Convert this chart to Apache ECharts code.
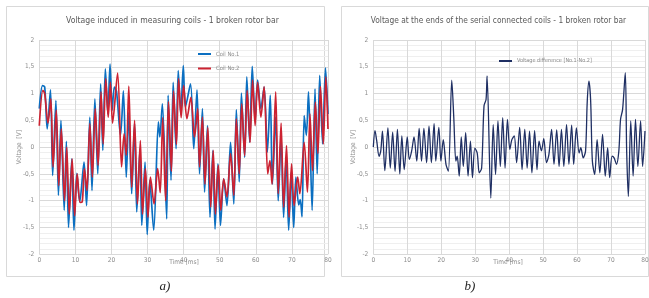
<!DOCTYPE html>
<html>
<head>
<meta charset="utf-8">
<script src="https://cdn.jsdelivr.net/npm/echarts@6/dist/echarts.min.js"></script>
<style>
  html, body { margin: 0; padding: 0; background: #fff; }
  #main { width: 649px; height: 298px; }
</style>
</head>
<body>
<div id="main"></div>
<script>
// values, extrema of the traces (time in ms, voltage in V)
var coil1Time = [0, 0.9, 1.5, 2.2, 3.1, 3.7, 4.6, 5.3, 6.0, 6.9, 7.5, 8.1, 9.0, 9.6, 10.4, 11.2, 12.4, 13.1, 14.0, 14.6, 15.4, 16.2, 17.0, 17.6, 18.3, 19.0, 19.6,
  20.2, 20.8, 21.4, 22.5, 23.3, 24.1, 24.8, 25.6, 26.4, 27.0, 27.9, 28.4, 29.3, 29.9, 30.6, 31.7, 33.0, 33.4, 34.1, 35.3, 35.7, 36.5, 37.1, 37.9, 38.5, 39.2, 39.9,
  40.5, 41.9, 42.8, 43.7, 44.4, 45.2, 45.8, 46.6, 47.3, 48.1, 48.7, 49.5, 50.2, 51.1, 52.0, 53.0, 53.9, 54.6, 55.4, 56.0, 56.9, 57.5, 58.3, 59.0,
  59.8, 60.5, 61.4, 62.3, 63.2, 64.0, 64.6, 65.5, 66.2, 67.0, 67.7, 68.4, 69.1, 69.8, 70.5, 71.1, 71.9, 72.3, 72.8, 73.4, 74.0, 74.6, 75.6, 76.4, 77.0, 77.7, 78.5, 79.3, 80];
var coil1Volt = [0.72, 1.15, 1.12, 0.34, 1.07, -0.53, 0.87, -0.90, 0.50, -1.18, 0.11, -1.50, -0.22, -1.55, -0.49, -1.02, -0.28, -1.09, 0.56, -0.81, 0.90, -0.50, 1.18, -0.06, 1.46, 0.62, 1.55,
  0.69, 1.12, 1.04, 0.22, 1.05, -0.56, 0.65, -0.87, 0.44, -1.21, -0.03, -1.46, -0.28, -1.63, -0.62, -1.55, 0.47, 0.19, 0.81, -1.34, 0.97, -0.62, 1.21, -0.03, 1.43, 0.62, 1.52,
  0.75, 1.18, -0.03, 1.07, -0.50, 0.72, -0.84, 0.40, -1.31, -0.06, -1.53, -0.31, -1.46, -0.59, -1.09, 0.09, -1.06, 0.70, -0.65, 1.01, -0.19, 1.31, 0.09, 1.51,
  0.50, 1.25, 0.72, 1.12, -0.09, 0.97, -0.69, 0.56, -1.00, 0.19, -1.31, -0.19, -1.55, -0.47, -1.50, -0.56, -1.08, -0.98, -1.30, 0.59, 0.22, 1.03, -1.18, 1.09, -0.50, 1.34, 0.06, 1.48, 0.62];

var coil2Time = [0, 1.0, 1.5, 2.4, 3.2, 3.8, 4.7, 5.4, 6.1, 7.0, 7.6, 8.3, 9.1, 9.8, 10.5, 11.3, 11.9, 12.5, 13.2, 14.0, 14.7, 15.5, 16.3, 17.1, 17.7, 18.4, 19.1, 19.7,
  20.3, 21.7, 22.8, 23.5, 24.1, 24.8, 25.6, 26.4, 27.2, 28.0, 28.6, 29.4, 30.1, 30.8, 31.8, 32.8, 33.5, 34.2, 35.0, 35.8, 36.6, 37.2, 38.0, 38.6, 39.3, 40.0,
  40.9, 42.0, 43.0, 43.9, 44.4, 45.2, 45.9, 46.7, 47.5, 48.2, 48.8, 49.6, 50.3, 51.1, 52.0, 53.0, 53.9, 54.6, 55.4, 56.1, 56.9, 57.6, 58.4, 59.1,
  59.8, 60.5, 61.4, 62.3, 63.3, 63.9, 64.5, 65.5, 66.2, 67.0, 67.7, 68.5, 69.2, 69.9, 70.6, 71.6, 72.2, 73.4, 74.3, 75.0, 75.7, 76.5, 77.2, 77.9, 78.7, 79.4, 80];
var coil2Volt = [0.40, 1.06, 1.00, 0.45, 0.90, -0.37, 0.69, -0.72, 0.34, -1.00, 0.00, -1.25, -0.22, -1.28, -0.50, -1.03, -1.02, -0.40, -0.81, 0.44, -0.56, 0.72, -0.34, 1.03, 0.06, 1.28, 0.56, 1.21,
  0.45, 1.38, -0.37, 0.25, -0.15, 1.14, -0.75, 0.50, -1.06, 0.12, -1.25, -0.40, -1.31, -0.56, -1.06, -0.40, -0.85, 0.55, -1.00, 0.85, -0.45, 1.05, 0.05, 1.28, 0.55, 1.15,
  0.53, 0.93, 0.19, 0.72, -0.37, 0.56, -0.69, 0.37, -1.12, -0.06, -1.25, -0.34, -1.18, -0.59, -0.93, -0.12, -0.90, 0.53, -0.50, 0.81, -0.16, 1.06, 0.09, 1.25,
  0.40, 1.21, 0.56, 1.13, -0.50, -0.25, -0.69, 1.03, -0.87, 0.45, -1.12, 0.03, -1.31, -0.31, -1.09, -0.56, -0.87, 0.09, -0.84, 0.62, -0.44, 0.84, -0.12, 1.13, 0.06, 1.31, 0.34];

var diffTime = [0, 0.5, 1.0, 1.7, 2.2, 2.7, 3.4, 4.3, 5.0, 5.7, 6.4, 7.1, 7.8, 8.4, 9.1, 10.0, 10.6, 11.3, 12.0, 12.8, 13.5, 14.2, 14.9, 15.7, 16.4, 17.1, 17.9, 18.4, 19.3, 19.9,
  20.6, 21.4, 22.1, 23.1, 23.7, 24.3, 24.7, 25.3, 25.9, 26.5, 27.2, 27.9, 28.6, 29.2, 29.9, 30.6, 31.2, 31.9, 32.6, 33.2, 33.5, 34.6, 35.3, 36.0, 36.7, 37.4, 38.1, 38.8, 39.5,
  40.2, 40.8, 41.5, 42.2, 43.1, 43.8, 44.6, 45.3, 46.0, 46.7, 47.5, 48.2, 48.8, 49.5, 50.2, 51.0, 51.7, 52.5, 53.2, 54.0, 54.7, 55.4, 56.1, 56.9, 57.6, 58.4, 59.0, 59.8,
  60.6, 61.1, 61.8, 62.5, 63.0, 63.5, 64.0, 64.5, 65.2, 65.9, 66.7, 67.5, 68.3, 69.0, 69.6, 70.3, 70.9, 71.6, 72.3, 72.8, 73.4, 74.2, 74.6, 75.1, 75.8, 76.5, 77.2, 77.9, 78.7, 79.3, 80.0];
var diffVolt = [0, 0.31, 0.12, -0.17, -0.07, 0.30, -0.44, 0.36, -0.39, 0.28, -0.45, 0.33, -0.50, 0.21, -0.42, 0.19, -0.23, -0.07, 0.19, -0.26, 0.35, -0.26, 0.35, -0.29, 0.39, -0.29, 0.44, -0.26, 0.37, -0.26,
  0.14, -0.32, -0.45, 1.25, 0.55, -0.26, -0.17, -0.54, 0.19, -0.36, 0.27, -0.54, 0.11, -0.57, -0.02, -0.11, -0.48, -0.39, 0.77, 0.89, 1.33, -0.95, 0.42, -0.51, 0.49, -0.36, 0.55, -0.39, 0.52,
  -0.04, 0.14, 0.21, -0.29, 0.37, -0.42, 0.33, -0.39, 0.30, -0.48, 0.31, -0.42, 0.11, -0.07, 0.16, -0.29, -0.14, 0.33, -0.32, 0.32, -0.36, 0.33, -0.36, 0.42, -0.32, 0.41, -0.32, 0.36,
  -0.11, -0.01, -0.20, -0.07, 0.86, 1.23, 0.86, -0.26, -0.51, 0.14, -0.48, 0.24, -0.54, -0.01, -0.57, -0.17, -0.20, -0.32, -0.07, 0.52, 0.70, 1.39, -0.07, -0.92, 0.49, -0.54, 0.52, -0.36, 0.49, -0.36, 0.30];

var FONT = '"DejaVu Sans Condensed", "Liberation Sans Narrow", sans-serif';

function pairs(t, v) {
  return t.map(function (x, i) { return [x, v[i]]; });
}

function xAxis(gi) {
  return {
    gridIndex: gi, type: 'value', min: 0, max: 80, interval: 10,
    axisLine: { onZero: true, lineStyle: { color: '#d9d9d9' } },
    axisTick: { show: false },
    axisLabel: { color: '#8c8c8c', fontSize: 6.5, margin: 3, fontFamily: FONT },
    splitLine: { lineStyle: { color: '#d9d9d9' } }
  };
}

function yAxis(gi) {
  return {
    gridIndex: gi, type: 'value', min: -2, max: 2, interval: 0.5,
    name: 'Voltage  [V]', nameLocation: 'middle', nameGap: 16, nameMoveOverlap: false,
    nameTextStyle: { color: '#8c8c8c', fontSize: 6.5, fontFamily: FONT },
    axisLine: { show: false }, axisTick: { show: false },
    axisLabel: {
      color: '#8c8c8c', fontSize: 6.5, margin: 5, fontFamily: FONT,
      formatter: function (v) { return String(v).replace('.', ','); }
    },
    splitLine: { lineStyle: { color: '#d9d9d9' } },
    minorTick: { show: false, splitNumber: 5 },
    minorSplitLine: { show: true, lineStyle: { color: '#efefef' } }
  };
}

function label(x, y, text, font, fill) {
  return { type: 'text', silent: true,
    style: { text: text, x: x, y: y, fill: fill || '#595959', align: 'center', verticalAlign: 'middle', font: font } };
}

var myChart = echarts.init(document.getElementById('main'));
var option = {
  animation: false,
  backgroundColor: '#fff',
  grid: [
    { left: 39.3, top: 40, width: 288.7, height: 214.3, outerBoundsMode: 'none' },
    { left: 373.3, top: 40, width: 271.7, height: 214.3, outerBoundsMode: 'none' }
  ],
  xAxis: [xAxis(0), xAxis(1)],
  yAxis: [yAxis(0), yAxis(1)],
  legend: [
    { data: ['Coil No.1', 'Coil No.2'], left: 193, top: 46, orient: 'vertical', itemGap: 8.5,
      icon: 'rect', itemWidth: 13, itemHeight: 2,
      textStyle: { fontSize: 5.8, color: '#8c8c8c', fontFamily: FONT } },
    { data: ['Voltage difference [No.1-No.2]'], left: 494, top: 53,
      icon: 'rect', itemWidth: 13, itemHeight: 2,
      textStyle: { fontSize: 5.5, color: '#8c8c8c', fontFamily: FONT } }
  ],
  series: [
    { name: 'Coil No.1', type: 'line', xAxisIndex: 0, yAxisIndex: 0, data: pairs(coil1Time, coil1Volt),
      showSymbol: false, smooth: 0.3, color: '#0b6fc1', lineStyle: { width: 1.7 } },
    { name: 'Coil No.2', type: 'line', xAxisIndex: 0, yAxisIndex: 0, data: pairs(coil2Time, coil2Volt),
      showSymbol: false, smooth: 0.3, color: '#cc2231', lineStyle: { width: 1.7 } },
    { name: 'Voltage difference [No.1-No.2]', type: 'line', xAxisIndex: 1, yAxisIndex: 1, data: pairs(diffTime, diffVolt),
      showSymbol: false, smooth: 0.3, color: '#1f2f63', lineStyle: { width: 1.3 } }
  ],
  graphic: [
    { type: 'rect', shape: { x: 6.5, y: 6.5, width: 318, height: 270 }, style: { fill: 'none', stroke: '#d9d9d9', lineWidth: 1 }, silent: true },
    { type: 'rect', shape: { x: 341.5, y: 6.5, width: 307, height: 270 }, style: { fill: 'none', stroke: '#d9d9d9', lineWidth: 1 }, silent: true },
    label(172.5, 21, 'Voltage induced in measuring coils - 1 broken rotor bar', '8.6px ' + FONT),
    label(498.5, 21, 'Voltage at the ends of the serial connected coils - 1 broken rotor bar', '8.3px ' + FONT),
    label(184, 262.5, 'Time [ms]', '6.5px ' + FONT, '#8c8c8c'),
    label(508, 262.5, 'Time [ms]', '6.5px ' + FONT, '#8c8c8c'),
    label(165, 287, 'a)', 'italic 13px "Liberation Serif", "DejaVu Serif", serif', '#222'),
    label(470, 287, 'b)', 'italic 13px "Liberation Serif", "DejaVu Serif", serif', '#222')
  ]
};
myChart.setOption(option);
</script>
</body>
</html>
